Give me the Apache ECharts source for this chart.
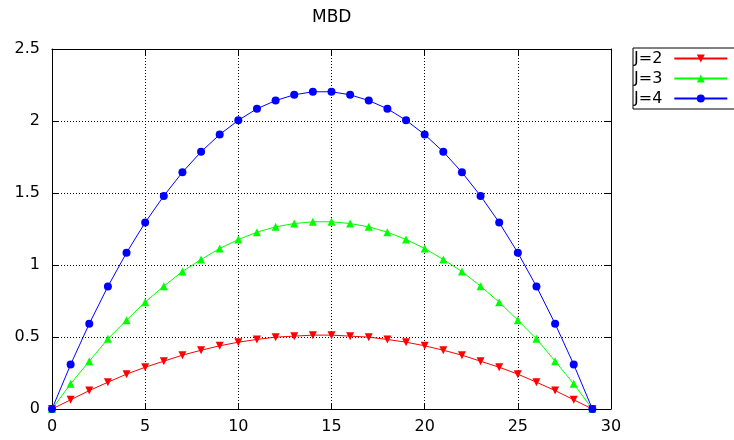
<!DOCTYPE html>
<html>
<head>
<meta charset="utf-8">
<script src="https://cdn.jsdelivr.net/npm/echarts@6/dist/echarts.min.js"></script>
<style>
  html, body { margin: 0; padding: 0; background: #fff; }
  #chart { width: 734px; height: 440px; }
</style>
</head>
<body>
<div id="chart"></div>
<script>
// Sample positions along the x axis
var xs = [0, 1, 2, 3, 4, 5, 6, 7, 8, 9, 10, 11, 12, 13, 14, 15, 16, 17, 18, 19, 20, 21, 22, 23, 24, 25, 26, 27, 28, 29];

// MBD profiles for each J
var j2 = [0, 0.064, 0.128, 0.186, 0.242, 0.290, 0.332, 0.374, 0.408, 0.439, 0.464, 0.483, 0.499, 0.506, 0.513,
          0.513, 0.506, 0.499, 0.483, 0.464, 0.439, 0.408, 0.374, 0.332, 0.290, 0.242, 0.186, 0.128, 0.064, 0];
var j3 = [0, 0.175, 0.332, 0.487, 0.617, 0.742, 0.853, 0.955, 1.038, 1.115, 1.177, 1.228, 1.265, 1.288, 1.300,
          1.300, 1.288, 1.265, 1.228, 1.177, 1.115, 1.038, 0.955, 0.853, 0.742, 0.617, 0.487, 0.332, 0.175, 0];
var j4 = [0, 0.309, 0.592, 0.851, 1.085, 1.295, 1.480, 1.644, 1.786, 1.906, 2.005, 2.085, 2.142, 2.182, 2.203,
          2.203, 2.182, 2.142, 2.085, 2.005, 1.906, 1.786, 1.644, 1.480, 1.295, 1.085, 0.851, 0.592, 0.309, 0];

var seriesNames = ['J=2', 'J=3', 'J=4'];
var titleText = 'MBD';

function pairs(ys) {
  return xs.map(function (x, i) { return [x, ys[i]]; });
}

var FONT = 'DejaVu Sans';
var FS = 16;

var chart = echarts.init(document.getElementById('chart'), null, { renderer: 'canvas' });

var tickStyle = { show: true, inside: true, length: 6, lineStyle: { color: '#000', width: 1 } };
var gridLine = { show: true, lineStyle: { color: '#000', width: 1, type: [1, 2] } };

chart.setOption({
  animation: false,
  backgroundColor: '#fff',
  title: {
    text: titleText,
    left: 312,
    top: 9,
    padding: 0,
    textStyle: { fontFamily: FONT, fontSize: 17, fontWeight: 'normal', color: '#000' }
  },
  legend: {
    orient: 'vertical',
    left: 633,
    top: 48,
    align: 'right',
    itemWidth: 53,
    itemHeight: 10,
    itemGap: 1,
    padding: [1, 10, 1, 1],
    borderColor: '#000',
    borderWidth: 1,
    borderRadius: 0,
    textStyle: { fontFamily: FONT, fontSize: FS, color: '#000', lineHeight: 19, padding: [0, 7, 0, 0] },
    data: seriesNames
  },
  grid: { left: 52, right: 123, top: 49, bottom: 31, containLabel: false },
  xAxis: [
    {
      type: 'value', min: 0, max: 30, interval: 5, position: 'bottom',
      axisLine: { show: true, onZero: false, lineStyle: { color: '#000', width: 1 } },
      axisTick: tickStyle,
      axisLabel: { fontFamily: FONT, fontSize: FS, color: '#000', margin: 10 },
      splitLine: gridLine
    },
    {
      type: 'value', min: 0, max: 30, interval: 5, position: 'top',
      axisLine: { show: true, onZero: false, lineStyle: { color: '#000', width: 1 } },
      axisTick: tickStyle,
      axisLabel: { show: false },
      splitLine: { show: false }
    }
  ],
  yAxis: [
    {
      type: 'value', min: 0, max: 2.5, interval: 0.5, position: 'left',
      axisLine: { show: true, onZero: false, lineStyle: { color: '#000', width: 1 } },
      axisTick: tickStyle,
      axisLabel: { fontFamily: FONT, fontSize: FS, color: '#000', margin: 12 },
      splitLine: gridLine
    },
    {
      type: 'value', min: 0, max: 2.5, interval: 0.5, position: 'right',
      axisLine: { show: true, onZero: false, lineStyle: { color: '#000', width: 1 } },
      axisTick: tickStyle,
      axisLabel: { show: false },
      splitLine: { show: false }
    }
  ],
  series: [
    {
      name: seriesNames[0], type: 'line', data: pairs(j2),
      symbol: 'triangle', symbolRotate: 180, symbolSize: 8, showAllSymbol: true,
      itemStyle: { color: '#ff0000' }, lineStyle: { color: '#ff0000', width: 1 }
    },
    {
      name: seriesNames[1], type: 'line', data: pairs(j3),
      symbol: 'triangle', symbolSize: 8, showAllSymbol: true,
      itemStyle: { color: '#00ff00' }, lineStyle: { color: '#00ff00', width: 1 }
    },
    {
      name: seriesNames[2], type: 'line', data: pairs(j4),
      symbol: 'circle', symbolSize: 8, showAllSymbol: true,
      itemStyle: { color: '#0000ff' }, lineStyle: { color: '#0000ff', width: 1 }
    }
  ]
});
</script>
</body>
</html>
